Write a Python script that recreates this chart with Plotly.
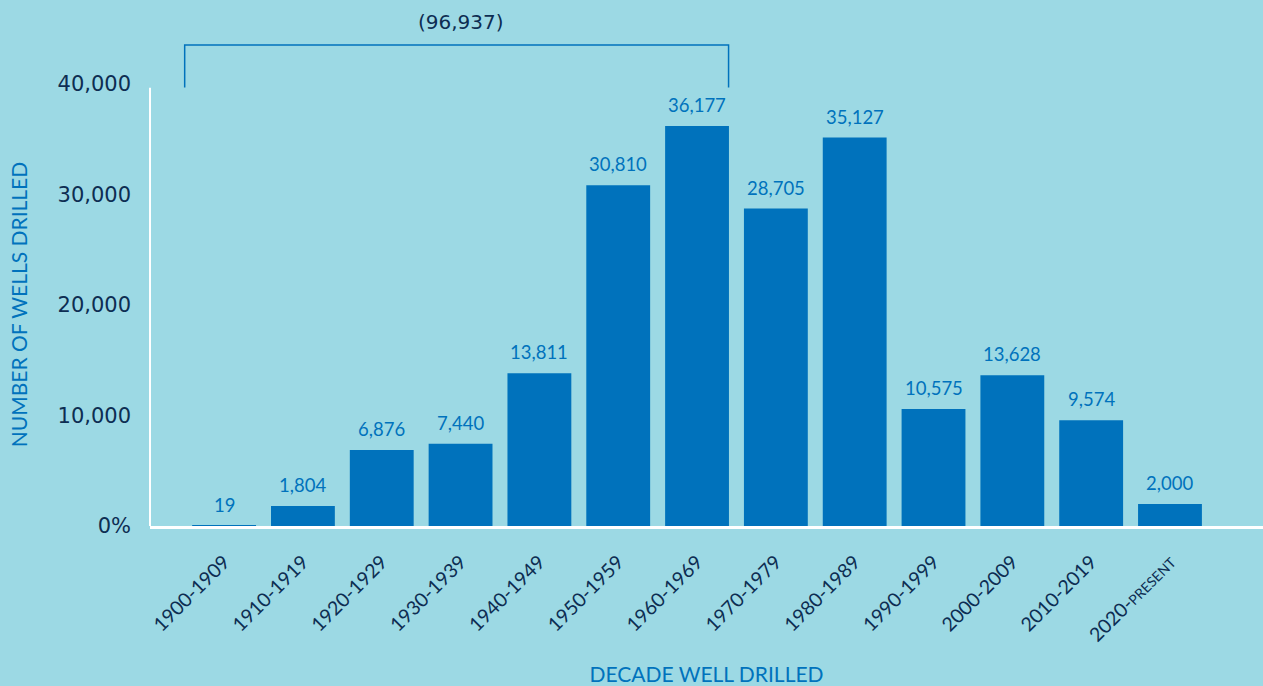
import plotly.graph_objects as go

decades = ["1900-1909", "1910-1919", "1920-1929", "1930-1939", "1940-1949", "1950-1959",
           "1960-1969", "1970-1979", "1980-1989", "1990-1999", "2000-2009", "2010-2019",
           "2020-PRESENT"]
tick_labels = ["1900-1909", "1910-1919", "1920-1929", "1930-1939", "1940-1949", "1950-1959",
               "1960-1969", "1970-1979", "1980-1989", "1990-1999", "2000-2009", "2010-2019",
               "2020-<span style='font-size:14px'>PRESENT</span>"]
wells = [19, 1804, 6876, 7440, 13811, 30810, 36177, 28705, 35127, 10575, 13628, 9574, 2000]
y_ticks = [0, 10000, 20000, 30000, 40000]
y_tick_text = ["0%", "10,000", "20,000", "30,000", "40,000"]
bracket_count = 7  # first seven decades summed

BG = "#9CD9E4"
BAR = "#0072BC"
NAVY = "#0D2D52"
FONT = "Lato"
WIDE = "DejaVu Sans"

x_idx = list(range(len(decades)))

fig = go.Figure()
fig.add_trace(go.Bar(
    x=x_idx, y=wells,
    marker=dict(color=BAR, line=dict(width=0)),
    width=0.81, hoverinfo="skip",
))

for i, v in zip(x_idx, wells):
    fig.add_annotation(x=i, y=v, xref="x", yref="y", text=f"{v:,}", showarrow=False,
                       yanchor="bottom", yshift=8,
                       font=dict(color=BAR, size=18.5, family=FONT))

total = sum(wells[:bracket_count])
fig.add_shape(type="path", xref="x", yref="paper",
              path=f"M -0.5,0.990 L -0.5,1.086 L {bracket_count - 0.6},1.086 L {bracket_count - 0.6},0.990",
              line=dict(color=BAR, width=1.5))
fig.add_annotation(x=(bracket_count - 1) / 2, xref="x", y=1.138, yref="paper",
                   yanchor="middle", text=f"({total:,})", showarrow=False,
                   font=dict(color=NAVY, size=20, family=WIDE))

# left axis line (stops a little below the top of the plot area)
fig.add_shape(type="line", xref="paper", yref="paper", x0=0, x1=0, y0=0, y1=0.989,
              line=dict(color="white", width=2))

fig.update_layout(
    width=1263, height=686,
    paper_bgcolor=BG, plot_bgcolor=BG,
    margin=dict(l=150, r=0, t=83, b=160),
    showlegend=False,
    font=dict(family=FONT, color=NAVY),
    xaxis=dict(
        range=[-0.94, 13.18], tickvals=x_idx, ticktext=tick_labels,
        tickangle=-45, tickfont=dict(size=19.5, color=NAVY, family=FONT),
        showgrid=False, zeroline=False, showline=True, linecolor="white", linewidth=3,
        ticks="", ticklabelstandoff=14,
        title=dict(text="DECADE WELL DRILLED", font=dict(size=21, color=BAR, family=FONT), standoff=26),
    ),
    yaxis=dict(
        range=[0, 40066], tickvals=y_ticks, ticktext=y_tick_text,
        tickfont=dict(size=21, color=NAVY, family=WIDE),
        showgrid=False, zeroline=False, showline=False,
        ticks="", ticklabelstandoff=18,
        title=dict(text="NUMBER OF WELLS DRILLED", font=dict(size=21, color=BAR, family=FONT), standoff=24),
    ),
)

fig.write_html("out.html", config={"displayModeBar": False},
               post_script="document.body.style.margin='0';document.body.style.background='" + BG + "';")
